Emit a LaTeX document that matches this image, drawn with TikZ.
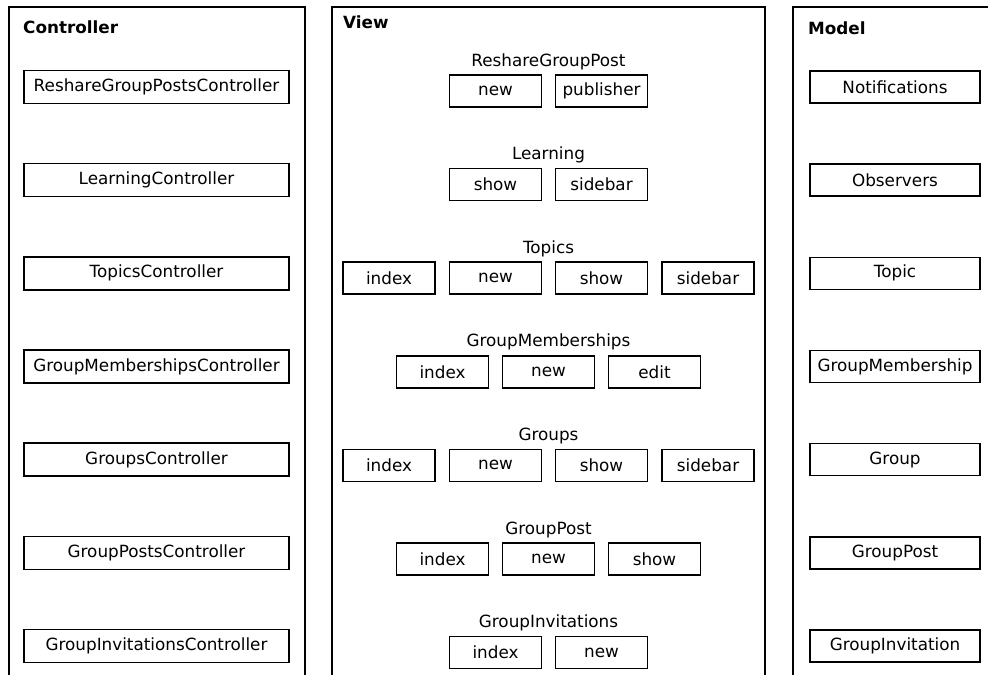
\documentclass[tikz,border=0pt]{standalone}
\usepackage{fontspec}
\setmainfont{DejaVu Sans}
\begin{document}
\begin{tikzpicture}[x=1pt,y=-1pt,
  frame/.style={line width=2pt, line join=miter},
  item/.style={draw, line width=1.6pt, inner sep=2pt, font=\fontsize{16.8}{20}\selectfont},
  ctrl/.style={item, minimum width=265pt, minimum height=33pt},
  mdl/.style={item, minimum width=170pt, minimum height=32pt},
  vw/.style={item, minimum width=92pt, minimum height=32pt},
  head/.style={font=\fontsize{16.8}{20}\selectfont\bfseries, anchor=base west, inner sep=0pt},
  grp/.style={font=\fontsize{16.8}{20}\selectfont, anchor=base, inner sep=0pt}]
\useasboundingbox (0,0) rectangle (988,675);

% the three columns, open at the bottom
\draw[frame] (9,675) -- (9,7) -- (305,7) -- (305,675);
\draw[frame] (332,675) -- (332,7) -- (765,7) -- (765,675);
\draw[frame] (793,675) -- (793,7) -- (988,7);

% column titles
\node[head] (hc) at (23,33) {Controller};
\node[head] (hv) at (343,28) {View};
\node[head] (hm) at (808,34) {Model};

% controllers
\foreach \n [count=\i from 0] in {ReshareGroupPostsController,LearningController,TopicsController,GroupMembershipsController,GroupsController,GroupPostsController,GroupInvitationsController}
  \node[ctrl] (c\i) at (156.5,{87+93.17*\i}) {\n};

% models
\foreach \n [count=\i from 0] in {Notifications,Observers,Topic,GroupMembership,Group,GroupPost,GroupInvitation}
  \node[mdl] (m\i) at (895,{87+93.17*\i}) {\n};

% views
\node[grp] (g0) at (548.5,66) {ReshareGroupPost};
\node[vw] (v0a) at (495.5,91) {new};
\node[vw] (v0b) at (601.5,91) {publisher};

\node[grp] (g1) at (548.5,159.6) {Learning};
\node[vw] (v1a) at (495.5,184.6) {show};
\node[vw] (v1b) at (601.5,184.6) {sidebar};

\node[grp] (g2) at (548.5,253.2) {Topics};
\node[vw] (v2a) at (389,278.2) {index};
\node[vw] (v2b) at (495.5,278.2) {new};
\node[vw] (v2c) at (601.5,278.2) {show};
\node[vw] (v2d) at (708,278.2) {sidebar};

\node[grp] (g3) at (548.5,346.8) {GroupMemberships};
\node[vw] (v3a) at (442.5,371.8) {index};
\node[vw] (v3b) at (548.5,371.8) {new};
\node[vw] (v3c) at (654.5,371.8) {edit};

\node[grp] (g4) at (548.5,440.4) {Groups};
\node[vw] (v4a) at (389,465.4) {index};
\node[vw] (v4b) at (495.5,465.4) {new};
\node[vw] (v4c) at (601.5,465.4) {show};
\node[vw] (v4d) at (708,465.4) {sidebar};

\node[grp] (g5) at (548.5,534) {GroupPost};
\node[vw] (v5a) at (442.5,559) {index};
\node[vw] (v5b) at (548.5,559) {new};
\node[vw] (v5c) at (654.5,559) {show};

\node[grp] (g6) at (548.5,627.6) {GroupInvitations};
\node[vw] (v6a) at (495.5,652.6) {index};
\node[vw] (v6b) at (601.5,652.6) {new};
\end{tikzpicture}
\end{document}
